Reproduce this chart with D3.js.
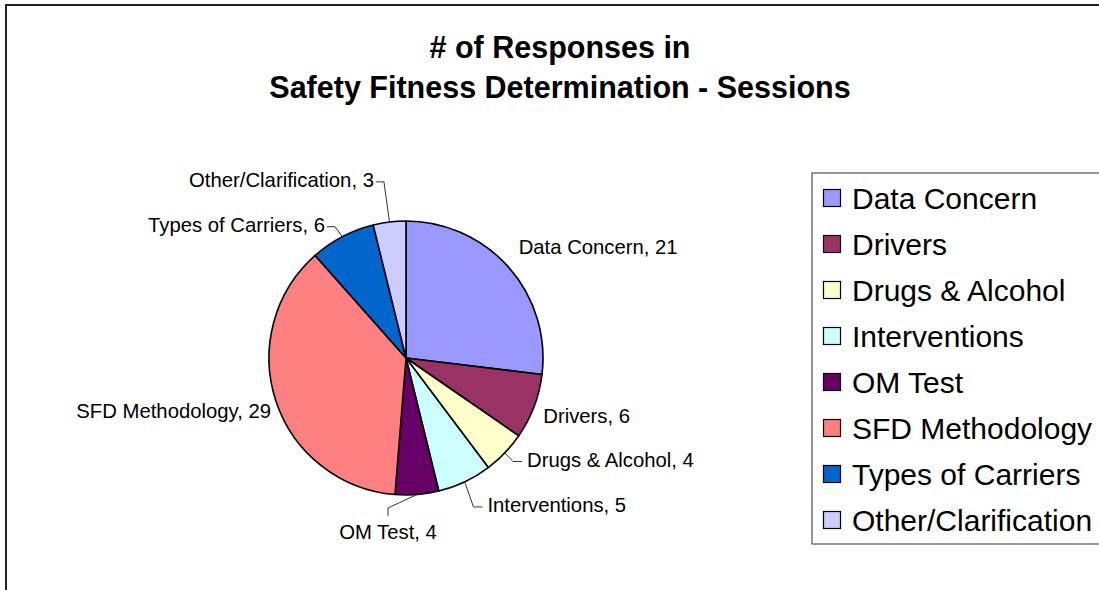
<!DOCTYPE html>
<html>
<head>
<meta charset="utf-8">
<script src="https://cdn.jsdelivr.net/npm/d3@7"></script>
<style>
  body { margin: 0; background: #fff; }
  svg { display: block; font-family: Arial, "Liberation Sans", sans-serif; }
</style>
</head>
<body>
<script>
// data
const categories = ["Data Concern", "Drivers", "Drugs & Alcohol", "Interventions",
  "OM Test", "SFD Methodology", "Types of Carriers", "Other/Clarification"];
const responses = [21, 6, 4, 5, 4, 29, 6, 3];
const colors = ["#9999ff", "#993366", "#ffffcc", "#ccffff",
  "#660066", "#ff8080", "#0066cc", "#ccccff"];
const titleLines = ["# of Responses in", "Safety Fitness Determination - Sessions"];

// where the data labels were dragged to (polar, round the pie centre)
const labelAngle = [45.5, 112.9, 130, 151, 186.5, 248.6, 328.7, 349.8];
const labelRadius = [158, 149, 158, 168, 159, 145, 156, 181];
const labelLeader = [false, false, true, true, true, false, true, true];

const width = 1099, height = 590;
const cx = 406, cy = 358, radius = 137;

const svg = d3.select("body").append("svg")
  .attr("width", width)
  .attr("height", height);

// chart area frame (right and bottom edges fall outside the picture)
svg.append("rect")
  .attr("x", 6).attr("y", 5)
  .attr("width", 1200).attr("height", 700)
  .attr("fill", "#fff")
  .attr("stroke", "#222")
  .attr("stroke-width", 2);

// title
svg.append("text")
  .attr("text-anchor", "middle")
  .attr("font-weight", "bold")
  .attr("font-size", 30.5)
  .selectAll("tspan")
  .data(titleLines)
  .join("tspan")
  .attr("x", 560)
  .attr("y", (d, i) => 58 + i * 40)
  .text(d => d);

const data = categories.map((c, i) => ({label: c, value: responses[i], i}));

const pie = d3.pie()
  .sort(null)
  .value(d => d.value);

const arc = d3.arc()
  .innerRadius(0)
  .outerRadius(radius);

const arcs = pie(data);

const g = svg.append("g")
  .attr("transform", `translate(${cx},${cy})`);

g.selectAll("path")
  .data(arcs)
  .join("path")
  .attr("d", arc)
  .attr("fill", d => colors[d.data.i])
  .attr("stroke", "#000")
  .attr("stroke-width", 1.6)
  .attr("stroke-linejoin", "round");

const polar = (deg, r) => {
  const a = deg * Math.PI / 180;
  return [r * Math.sin(a), -r * Math.cos(a)];
};

// data labels + leader lines
const labels = arcs.map(d => {
  const i = d.data.i;
  const mid = (d.startAngle + d.endAngle) / 2;
  const edge = [radius * Math.sin(mid), -radius * Math.cos(mid)];
  const [tx, ty] = polar(labelAngle[i], labelRadius[i]);
  const deg = labelAngle[i];
  let anchor = deg < 180 ? "start" : "end";
  if (Math.abs(deg - 180) < 15) anchor = "middle";
  let pts = null;
  if (labelLeader[i]) {
    if (anchor === "start") pts = [edge, [tx - 14, ty + 2], [tx - 5, ty + 2]];
    else if (anchor === "end") pts = [edge, [tx + 10, ty + 2], [tx + 2, ty + 2]];
    else pts = [edge, [tx, ty - 8], [tx, ty]];
  }
  return {text: `${d.data.label}, ${d.data.value}`, tx, ty, anchor, pts};
});

g.selectAll("path.leader")
  .data(labels.filter(d => d.pts))
  .join("path")
  .attr("class", "leader")
  .attr("d", d => d3.line()(d.pts))
  .attr("fill", "none")
  .attr("stroke", "#333")
  .attr("stroke-width", 1);

g.selectAll("text.lbl")
  .data(labels)
  .join("text")
  .attr("class", "lbl")
  .attr("x", d => d.tx)
  .attr("y", d => d.anchor === "middle" ? d.ty + 23 : d.ty + 7)
  .attr("text-anchor", d => d.anchor)
  .attr("font-size", 20.3)
  .attr("fill", "#000")
  .text(d => d.text);

// legend
const legendY = d3.scalePoint()
  .domain(categories)
  .range([198, 520]);

svg.append("rect")
  .attr("x", 812).attr("y", 173)
  .attr("width", 400).attr("height", 371)
  .attr("fill", "#fff")
  .attr("stroke", "#333")
  .attr("stroke-width", 1);

const item = svg.append("g")
  .selectAll("g")
  .data(categories)
  .join("g")
  .attr("transform", d => `translate(0,${legendY(d)})`);

item.append("rect")
  .attr("x", 823.5).attr("y", -8.5)
  .attr("width", 17).attr("height", 17)
  .attr("fill", (d, i) => colors[i])
  .attr("stroke", "#000")
  .attr("stroke-width", 1.2);

item.append("text")
  .attr("x", 852)
  .attr("y", 10.5)
  .attr("font-size", 30)
  .text(d => d);
</script>
</body>
</html>
